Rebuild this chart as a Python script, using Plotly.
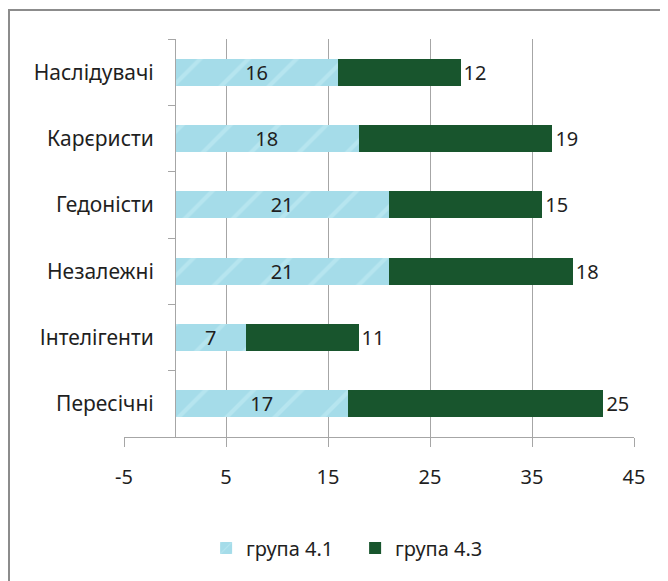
import plotly.graph_objects as go

categories = ["Наслідувачі", "Карєристи", "Гедоністи", "Незалежні", "Інтелігенти", "Пересічні"]
group_41 = [16, 18, 21, 21, 7, 17]
group_43 = [12, 19, 15, 18, 11, 25]
x_ticks = [-5, 5, 15, 25, 35, 45]
x_tick_labels = ["-5", "5", "15", "25", "35", "45"]

FONT = "Noto Sans"
GRID = "#a6a6a6"
TXT = "#1f1f1f"

fig = go.Figure()
fig.add_trace(go.Bar(
    y=categories, x=group_41, orientation="h", name="група 4.1",
    marker=dict(color="#a5dce9", line=dict(width=0),
                pattern=dict(shape="/", fgcolor="#c8eef6", size=34, solidity=0.12)),
    text=group_41, textposition="inside", insidetextanchor="middle", textangle=0,
    constraintext="none",
    textfont=dict(family=FONT, size=20, color=TXT),
))
fig.add_trace(go.Bar(
    y=categories, x=group_43, orientation="h", name="група 4.3",
    marker=dict(color="#18552d", line=dict(width=0)),
    text=group_43, textposition="outside", textangle=0, constraintext="none",
    textfont=dict(family=FONT, size=20, color=TXT),
    cliponaxis=False,
))

fig.update_layout(
    width=668, height=581,
    margin=dict(l=116, r=42, t=31, b=152, autoexpand=False),
    paper_bgcolor="white", plot_bgcolor="white",
    barmode="stack", bargap=0.59,
    font=dict(family=FONT, size=20, color=TXT),
    showlegend=True,
    legend=dict(orientation="h", traceorder="normal", x=0.161, xanchor="left", y=-0.279, yanchor="middle",
                font=dict(family=FONT, size=20, color=TXT), itemwidth=30,
                entrywidth=104, entrywidthmode="pixels"),
    xaxis=dict(range=[-5, 45], tickvals=x_ticks, ticktext=x_tick_labels,
               showgrid=True, gridcolor=GRID, gridwidth=1, automargin=False,
               zeroline=False, showline=True, linecolor=GRID, linewidth=1,
               ticks="outside", ticklen=9, tickcolor=GRID,
               ticklabelstandoff=13,
               tickfont=dict(family=FONT, size=20, color=TXT)),
    yaxis=dict(autorange="reversed", anchor="free", position=0.1, automargin=False,
               showgrid=False, zeroline=False, showline=True, linecolor=GRID, linewidth=1,
               ticks="outside", ticklen=7, tickcolor=GRID, tickson="boundaries",
               ticklabelstandoff=17,
               tickfont=dict(family=FONT, size=21, color=TXT)),
    shapes=[dict(type="rect", xref="paper", yref="paper", x0=-0.2255, x1=1.2, y0=-0.5, y1=1.073,
                 line=dict(color="#8c8c8c", width=2), fillcolor="rgba(0,0,0,0)", layer="below")],
)

fig.write_html("out.html")
